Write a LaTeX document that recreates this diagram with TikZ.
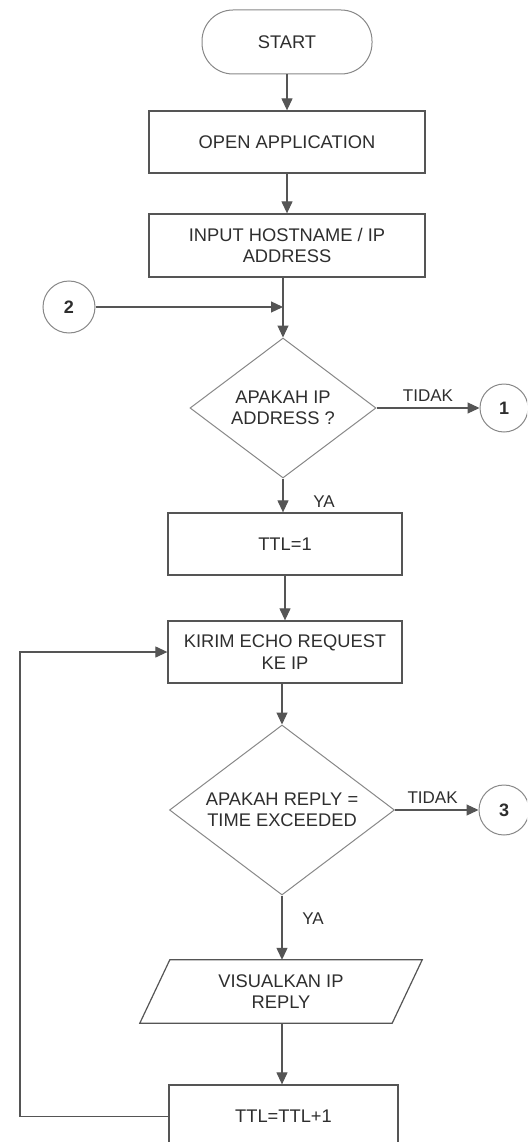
\documentclass[tikz,border=0pt]{standalone}
\usepackage{fontspec}
\setmainfont{Liberation Sans}
\usetikzlibrary{shapes.geometric,arrows.meta,calc}
\definecolor{linec}{HTML}{555555}
\definecolor{thinc}{HTML}{888888}
\definecolor{txtc}{HTML}{2E2E2E}
\begin{document}
\begin{tikzpicture}[x=1pt,y=-1pt,
  every node/.style={font=\fontsize{18.3}{21.5}\selectfont, text=txtc, align=center, inner sep=0pt},
  procbox/.style={draw=linec, line width=1.3pt, minimum height=62pt},
  term/.style={draw=thinc, line width=1pt, rounded corners=31pt, minimum width=170pt, minimum height=64pt},
  decis/.style={draw=thinc, line width=1pt, shape=diamond},
  conn/.style={draw=thinc, line width=1pt, circle, font=\fontsize{18}{21.5}\selectfont\bfseries},
  arr/.style={draw=linec, line width=1.2pt, -{Triangle[length=12pt,width=11pt]}},
  lbl/.style={font=\fontsize{17}{20}\selectfont}
]
\useasboundingbox (0,0) rectangle (527,1142);
\clip (0,0) rectangle (527,1142);
\fill[white] (0,0) rectangle (527,1142);

% nodes
\node[term] (start) at (287,42) {START};
\node[procbox, minimum width=276pt] (open) at (287,142) {OPEN APPLICATION};
\node[procbox, minimum width=276pt, minimum height=63pt] (input) at (287,245.5) {INPUT HOSTNAME / IP\\ADDRESS};
\node[conn, minimum size=52pt] (c2) at (69,307) {2};
\coordinate (j) at (283,307);
\node[decis, minimum width=186pt, minimum height=140pt] (d1) at (283,408) {};
\node at (d1.center) {APAKAH IP\\ADDRESS ?};
\node[conn, minimum size=48pt] (c1) at (504,408) {1};
\node[procbox, minimum width=234pt] (ttl1) at (285,544) {TTL=1};
\node[procbox, minimum width=234pt] (kirim) at (285,652) {KIRIM ECHO REQUEST\\KE IP};
\node[decis, minimum width=225pt, minimum height=170pt] (d2) at (282,810) {};
\node at (d2.center) {APAKAH REPLY =\\TIME EXCEEDED};
\node[conn, minimum size=50pt] (c3) at (504,810) {3};
\node[minimum width=252pt, minimum height=63pt] (vis) at (281,991.5) {VISUALKAN IP\\REPLY};
\draw[draw=linec, line width=1.2pt]
  ($(vis.north west)+(15,0)$) -- ($(vis.north east)+(15,0)$) --
  ($(vis.south east)+(-15,0)$) -- ($(vis.south west)+(-15,0)$) -- cycle;
\node[procbox, minimum width=229pt, minimum height=63pt] (ttl2) at (283.5,1116.5) {TTL=TTL+1};
\coordinate (lb) at (20,1116.5);
\coordinate (lt) at (20,652);
\coordinate (vx) at (vis.south -| d2.south);

% connectors
\draw[arr] (start.south) -- (open.north);
\draw[arr] (open.south) -- (input.north);
\draw[draw=linec, line width=1.2pt] (input.south -| d1.north) -- (j);
\draw[arr] (j) -- (d1.north);
\draw[arr] (c2.east) -- (j);
\draw[arr] (d1.east) -- node[lbl, above=6pt] {TIDAK} (c1.west);
\draw[arr] (d1.south) -- (d1.south |- ttl1.north);
\node[lbl] at (324,502) {YA};
\draw[arr] (ttl1.south) -- (kirim.north);
\draw[arr] (kirim.south -| d2.north) -- (d2.north);
\draw[arr] (d2.east) -- node[lbl, above=6pt, pos=0.45] {TIDAK} (c3.west);
\draw[arr] (d2.south) -- (d2.south |- vis.north);
\node[lbl] at (313,919) {YA};
\draw[arr] (vx) -- (vx |- ttl2.north);
\draw[arr] (ttl2.west) -- (lb) -- (lt) -- (kirim.west);
\end{tikzpicture}
\end{document}
